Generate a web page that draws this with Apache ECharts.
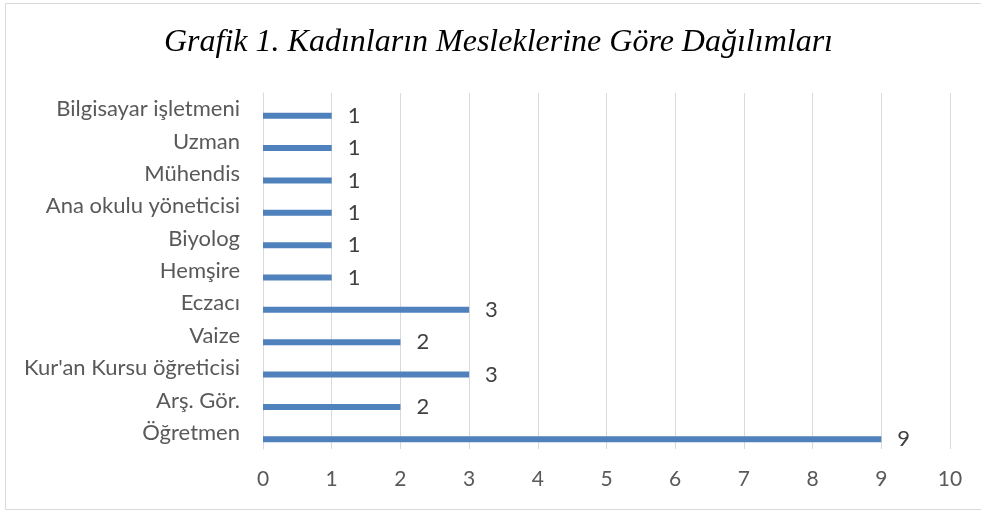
<!DOCTYPE html>
<html>
<head>
<meta charset="utf-8">
<title>Grafik 1</title>
<script src="https://cdn.jsdelivr.net/npm/echarts@6/dist/echarts.min.js"></script>
<style>
  html, body { margin: 0; padding: 0; background: #ffffff; }
  #chart { width: 981px; height: 514px; }
</style>
</head>
<body>
<div id="chart"></div>
<script>
// meslekler, alttan üste doğru
const meslekler = [
  'Öğretmen', 'Arş. Gör.', "Kur'an Kursu öğreticisi", 'Vaize', 'Eczacı',
  'Hemşire', 'Biyolog', 'Ana okulu yöneticisi', 'Mühendis', 'Uzman', 'Bilgisayar işletmeni'
]
const kisiSayisi = [9, 2, 3, 2, 3, 1, 1, 1, 1, 1, 1]
// Excel'deki boş seri: çubukları bandın altına iter
const bosSeri = meslekler.map(() => '-')
const xTicks = { min: 0, max: 10, interval: 1 }

const labelFont = 'Lato, "Noto Sans", sans-serif'

const chart = echarts.init(document.getElementById('chart'))
chart.setOption({
  backgroundColor: '#ffffff',
  animation: false,
  title: {
    text: 'Grafik 1. Kadınların Mesleklerine Göre Dağılımları',
    left: 159,
    top: 22,
    textStyle: {
      fontFamily: '"Liberation Serif", serif',
      fontStyle: 'italic',
      fontWeight: 'normal',
      fontSize: 32,
      color: '#000000'
    }
  },
  graphic: [
    {
      type: 'rect',
      shape: { x: 5.5, y: 3.5, width: 990, height: 506 },
      style: { fill: 'none', stroke: '#d9d9d9', lineWidth: 1 },
      silent: true
    }
  ],
  grid: {
    left: 263,
    right: 31,
    top: 93,
    bottom: 65
  },
  xAxis: {
    type: 'value',
    min: xTicks.min,
    max: xTicks.max,
    interval: xTicks.interval,
    axisLine: { show: false },
    axisTick: { show: false },
    axisLabel: {
      margin: 20,
      fontFamily: labelFont,
      fontSize: 21,
      color: '#595959'
    },
    splitLine: { lineStyle: { color: '#d9d9d9', width: 1 } }
  },
  yAxis: {
    type: 'category',
    data: meslekler,
    axisLine: { lineStyle: { color: '#d9d9d9' } },
    axisTick: { length: 8, lineStyle: { color: '#d9d9d9' } },
    axisLabel: {
      margin: 23,
      fontFamily: labelFont,
      fontSize: 22,
      color: '#595959'
    }
  },
  series: [
    {
      name: 'bos',
      type: 'bar',
      data: bosSeri,
      barWidth: 6,
      barGap: '117%',
      silent: true
    },
    {
      name: 'Kişi sayısı',
      type: 'bar',
      data: kisiSayisi,
      barWidth: 6,
      barGap: '117%',
      itemStyle: { color: '#4f81bd' },
      label: {
        show: true,
        position: 'right',
        distance: 16,
        fontFamily: labelFont,
        fontSize: 22,
        color: '#404040'
      }
    }
  ]
})
</script>
</body>
</html>
